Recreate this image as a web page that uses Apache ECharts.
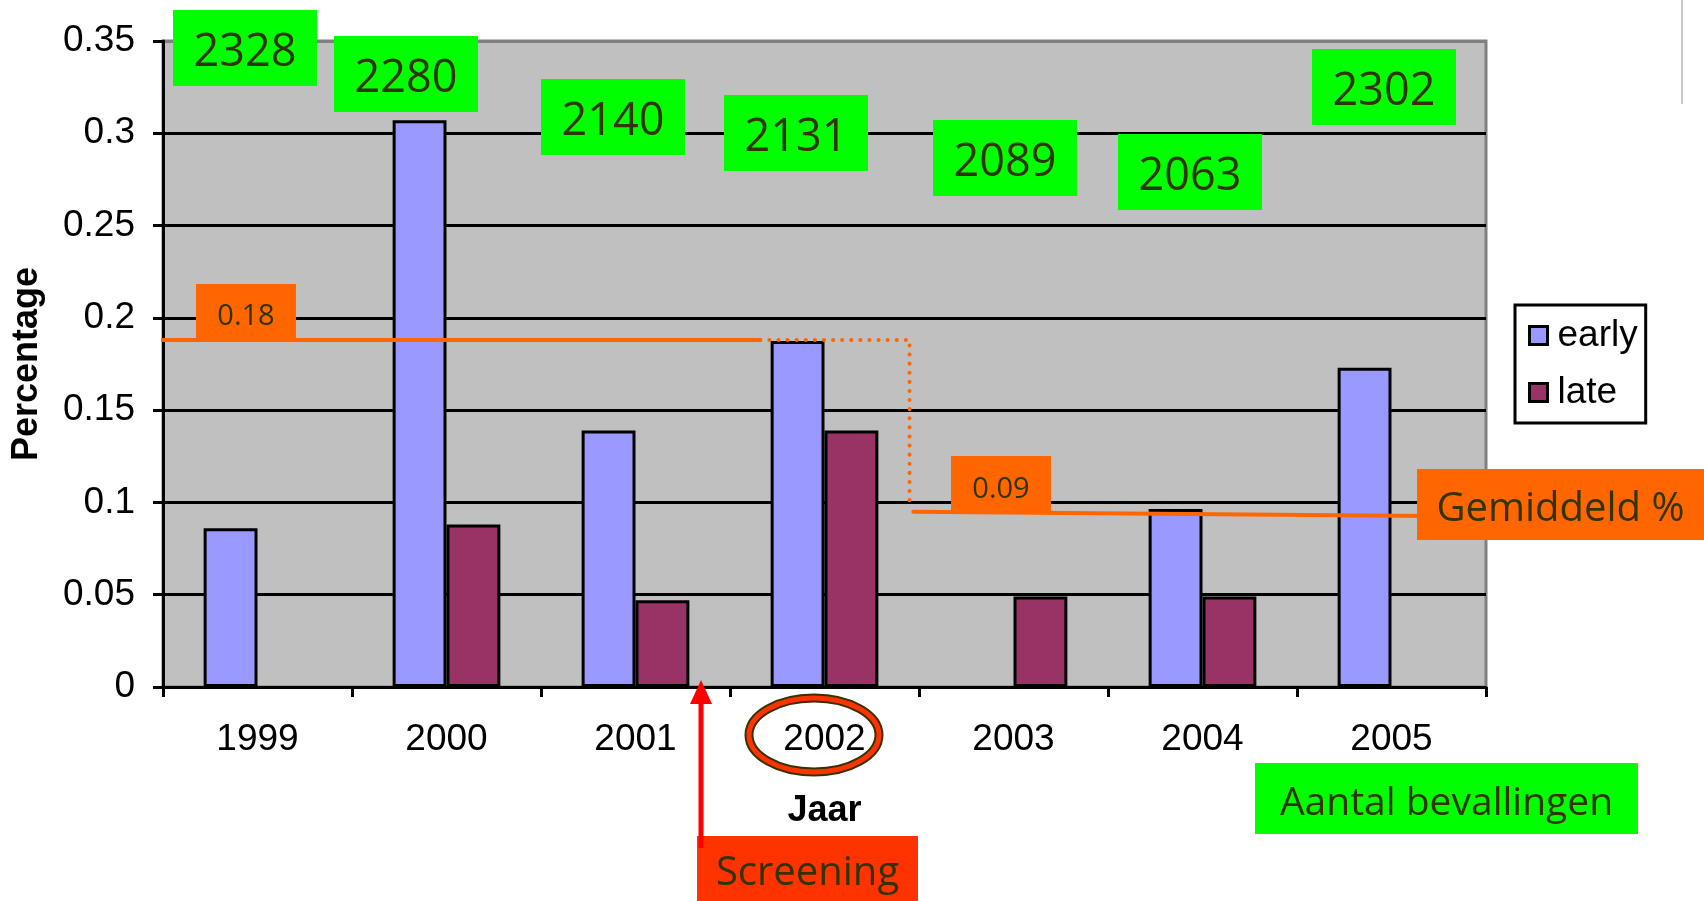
<!DOCTYPE html>
<html>
<head>
<meta charset="utf-8">
<script src="https://cdn.jsdelivr.net/npm/echarts@6/dist/echarts.min.js"></script>
<style>
  html, body { margin: 0; padding: 0; background: #fff; }
  #chart { width: 1704px; height: 901px; }
</style>
</head>
<body>
<div id="chart"></div>
<script>
// data
const years = ['1999', '2000', '2001', '2002', '2003', '2004', '2005']
const early = [0.086, 0.307, 0.139, 0.1875, '-', 0.0965, 0.173]
const late = ['-', 0.088, 0.047, 0.139, 0.049, 0.049, '-']
const births = [2328, 2280, 2140, 2131, 2089, 2063, 2302]
const yTicks = [0, 0.35, 0.05] // min, max, step

// gemiddeld % lines, x in category units (0..7)
const avgBefore = [[-0.02, 0.188], [3.16, 0.188]]
const avgStep = [[3.16, 0.188], [3.95, 0.188], [3.95, 0.097]]
const avgAfter = [[3.97, 0.095], [6.7, 0.0927]]
const avgLabels = ['0.18', '0.09']

// annotation layout (pixels)
const birthBoxPos = [[173, 10], [334, 36], [541, 79], [724, 95], [933, 120], [1118, 134], [1312, 49]]

const axisFont = "'Liberation Sans', Arial, sans-serif"
const noteFont = "'Open Sans', 'Liberation Sans', sans-serif"
const noteColor = '#333300'

const chart = echarts.init(document.getElementById('chart'))

// rectangle with centred text, drawn above the plot
const box = (x, y, w, h, fill, text, size) => [
  { type: 'rect', z: 100, shape: { x: x, y: y, width: w, height: h }, style: { fill: fill } },
  {
    type: 'text',
    z: 101,
    style: {
      text: text,
      x: x + w / 2,
      y: y + h / 2 + 5,
      align: 'center',
      verticalAlign: 'middle',
      fill: noteColor,
      font: size + 'px ' + noteFont
    }
  }
]

let graphics = []
births.forEach((b, i) => {
  graphics = graphics.concat(box(birthBoxPos[i][0], birthBoxPos[i][1], 144, 76, '#00ff00', String(b), 45))
})
graphics = graphics.concat(box(1255, 763, 383, 71, '#00ff00', 'Aantal bevallingen', 39))
graphics = graphics.concat(box(196, 284, 100, 56, '#ff6600', avgLabels[0], 29))
graphics = graphics.concat(box(951, 456, 100, 57, '#ff6600', avgLabels[1], 29))
graphics = graphics.concat(box(1417, 469, 287, 71, '#ff6600', 'Gemiddeld %', 40))
graphics = graphics.concat(box(697, 836, 221, 65, '#ff3300', 'Screening', 40))

// screening arrow
graphics.push({
  type: 'line',
  z: 102,
  shape: { x1: 701, y1: 848, x2: 701, y2: 700 },
  style: { stroke: '#ff0000', lineWidth: 5 }
})
graphics.push({
  type: 'polygon',
  z: 102,
  shape: { points: [[701, 680], [690, 704], [712, 704]] },
  style: { fill: '#ff0000' }
})
// circle round 2002
graphics.push({
  type: 'ellipse',
  z: 102,
  shape: { cx: 814, cy: 735, rx: 65, ry: 37 },
  style: { fill: 'none', stroke: '#3a3000', lineWidth: 9 }
})
graphics.push({
  type: 'ellipse',
  z: 103,
  shape: { cx: 814, cy: 735, rx: 65, ry: 37 },
  style: { fill: 'none', stroke: '#ff3300', lineWidth: 5 }
})
// slide border line top right
graphics.push({
  type: 'line',
  z: 1,
  shape: { x1: 1682, y1: 0, x2: 1682, y2: 104 },
  style: { stroke: '#c8c8c8', lineWidth: 2 }
})

const barStyle = (color) => ({ color: color, borderColor: '#000', borderWidth: 3 })

const lineSeries = (data, type) => ({
  type: 'line',
  xAxisIndex: 1,
  data: data,
  symbol: 'none',
  clip: false,
  silent: true,
  z: 5,
  lineStyle: { color: '#ff6600', width: 4, type: type, cap: 'round' }
})

const option = {
  animation: false,
  backgroundColor: '#fff',
  grid: {
    left: 163,
    top: 41,
    right: 218,
    bottom: 214,
    show: true,
    backgroundColor: '#c0c0c0',
    borderColor: '#808080',
    borderWidth: 3
  },
  legend: {
    orient: 'vertical',
    left: 1515,
    top: 305,
    padding: [12, 8, 12, 13],
    itemGap: 20,
    itemWidth: 18,
    itemHeight: 18,
    borderColor: '#000',
    borderWidth: 3,
    backgroundColor: '#fff',
    icon: 'rect',
    itemStyle: { borderColor: '#000', borderWidth: 3 },
    textStyle: { fontFamily: axisFont, fontSize: 37, color: '#000', padding: [0, 0, 0, 5] },
    data: ['early', 'late']
  },
  xAxis: [
    {
      type: 'category',
      data: years,
      name: 'Jaar',
      nameLocation: 'middle',
      nameGap: 106,
      nameTextStyle: { fontFamily: axisFont, fontSize: 36, fontWeight: 'bold', color: '#000', verticalAlign: 'top' },
      axisLine: { lineStyle: { color: '#000', width: 3 } },
      axisTick: { show: true, length: 10, lineStyle: { color: '#000', width: 3 } },
      axisLabel: { color: '#000', fontFamily: axisFont, fontSize: 37, margin: 34 },
      splitLine: { show: false }
    },
    {
      type: 'value',
      min: 0,
      max: 7,
      show: false
    }
  ],
  yAxis: {
    type: 'value',
    min: yTicks[0],
    max: yTicks[1],
    interval: yTicks[2],
    name: 'Percentage',
    nameLocation: 'middle',
    nameGap: 118,
    nameTextStyle: { fontFamily: axisFont, fontSize: 36, fontWeight: 'bold', color: '#000' },
    axisLine: { show: true, lineStyle: { color: '#000', width: 3 } },
    axisTick: { show: true, length: 10, lineStyle: { color: '#000', width: 3 } },
    axisLabel: { color: '#000', fontFamily: axisFont, fontSize: 37, margin: 28 },
    splitLine: {
      show: true,
      lineStyle: {
        color: ['#000', '#000', '#000', '#000', '#000', '#000', '#000', '#808080'],
        width: 3
      }
    }
  },
  series: [
    {
      name: 'early',
      type: 'bar',
      data: early,
      barGap: '0%',
      barCategoryGap: '43%',
      itemStyle: barStyle('#9999ff')
    },
    {
      name: 'late',
      type: 'bar',
      data: late,
      itemStyle: barStyle('#993366')
    },
    lineSeries(avgBefore, 'solid'),
    lineSeries(avgStep, [0.1, 9]),
    lineSeries(avgAfter, 'solid')
  ],
  graphic: { elements: graphics }
}

chart.setOption(option)
</script>
</body>
</html>
